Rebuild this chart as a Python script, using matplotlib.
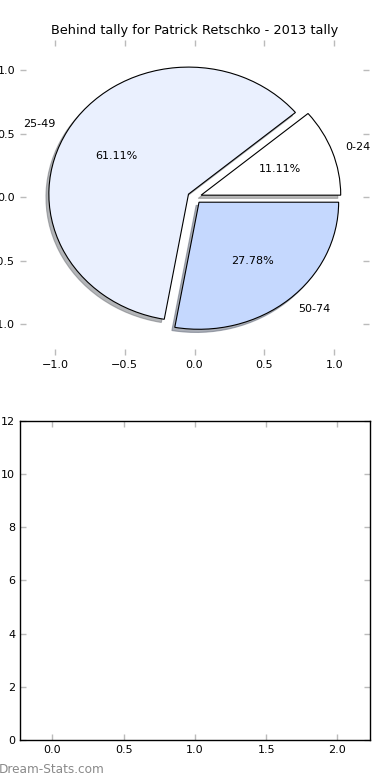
import matplotlib
matplotlib.use("Agg")
import matplotlib.pyplot as plt

title = "Behind tally for Patrick Retschko - 2013 tally"
labels = ["0-24", "25-49", "50-74"]
counts = [2, 11, 5]
colors = ["#ffffff", "#eaf0fe", "#c5d8fe"]
explode = [0.05, 0.05, 0.05]
pie_ticks = [-1.0, -0.5, 0.0, 0.5, 1.0]
bar_yticks = [0, 2, 4, 6, 8, 10, 12]
bar_xticks = [0.0, 0.5, 1.0, 1.5, 2.0]

fig = plt.figure(figsize=(3.9, 7.8), dpi=100)

ax1 = fig.add_axes([0.0513, 0.545, 0.895, 0.404])
wedges, texts, autotexts = ax1.pie(
    counts, labels=labels, colors=colors, explode=explode, autopct="%.2f%%",
    shadow={"ox": -0.015, "oy": -0.018, "shade": 0.55}, startangle=0, frame=True,
    wedgeprops=dict(edgecolor="black", linewidth=0.8),
    textprops=dict(fontsize=8))
ax1.set_aspect("auto")
ax1.set_xlim(-1.25, 1.25)
ax1.set_ylim(-1.24, 1.24)
ax1.set_xticks(pie_ticks)
ax1.set_yticks(pie_ticks)
for s in ax1.spines.values():
    s.set_visible(False)
ax1.tick_params(direction="in", length=4, color="#bbbbbb", labelsize=8,
                top=True, right=True, width=1)
ax1.set_title(title, fontsize=9.3, pad=4)

ax2 = fig.add_axes([0.0513, 0.0513, 0.897, 0.409])
ax2.set_xlim(-0.2275, 2.2275)
ax2.set_ylim(0, 12)
ax2.set_xticks(bar_xticks)
ax2.set_yticks(bar_yticks)
ax2.tick_params(direction="in", length=4, color="#bbbbbb", labelsize=8,
                top=True, right=True, width=1)
for s in ax2.spines.values():
    s.set_linewidth(1.0)

fig.text(-0.004, 0.013, "Dream-Stats.com", fontsize=8.7, color="#8a8a8a",
         ha="left", va="center")

fig.savefig("out.png", dpi=100)
